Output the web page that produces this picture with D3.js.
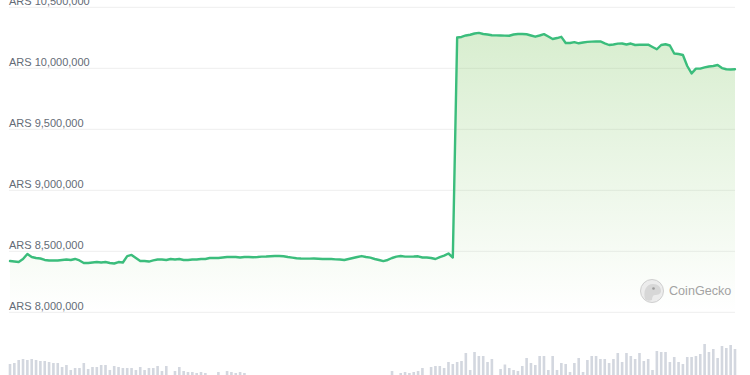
<!DOCTYPE html>
<html>
<head>
<meta charset="utf-8">
<script src="https://cdn.jsdelivr.net/npm/d3@7"></script>
<style>
  html, body { margin: 0; padding: 0; background: #ffffff; }
  #chart { width: 750px; height: 375px; overflow: hidden; }
</style>
</head>
<body>
<div id="chart"></div>
<script>
// hourly prices over 7 days, in thousand ARS
const prices = [
  8420, 8416, 8412, 8437, 8478, 8453, 8445, 8441, 8429, 8425,
  8425, 8425, 8429, 8433, 8429, 8437, 8425, 8404, 8404, 8408,
  8412, 8408, 8412, 8404, 8400, 8412, 8408, 8461, 8470, 8445,
  8420, 8420, 8416, 8425, 8433, 8433, 8429, 8437, 8433, 8437,
  8429, 8429, 8433, 8433, 8437, 8437, 8445, 8445, 8445, 8449,
  8453, 8453, 8453, 8449, 8453, 8453, 8451, 8453, 8456, 8457,
  8459, 8461, 8461, 8459, 8453, 8448, 8443, 8441, 8440, 8440,
  8441, 8439, 8437, 8437, 8437, 8434, 8433, 8429, 8437, 8445,
  8453, 8461, 8453, 8448, 8437, 8429, 8420, 8429, 8445, 8456,
  8461, 8456, 8456, 8457, 8459, 8449, 8449, 8445, 8437, 8453,
  8465, 8482, 8449, 10252, 10257, 10269, 10275, 10285, 10290, 10281,
  10277, 10271, 10270, 10269, 10268, 10267, 10277, 10281, 10281, 10279,
  10269, 10259, 10269, 10280, 10261, 10240, 10248, 10258, 10207, 10207,
  10214, 10205, 10211, 10217, 10219, 10220, 10220, 10205, 10191, 10195,
  10202, 10203, 10195, 10203, 10191, 10193, 10193, 10194, 10175, 10156,
  10191, 10197, 10187, 10121, 10117, 10109, 10019, 9958, 9997, 9997,
  10007, 10015, 10019, 10027, 10002, 9992, 9990, 9992
];

// hourly volume, relative units (0-100)
const volumes = [
  56, 58, 64, 66, 64, 66, 64, 62, 62, 60,
  58, 58, 50, 54, 44, 48, 48, 58, 46, 50,
  50, 54, 54, 44, 52, 50, 48, 48, 48, 44,
  50, 44, 48, 48, 52, 42, 52, 28, 42, 50,
  42, 40, 40, 38, 40, 38, 28, 26, 40, 28,
  42, 40, 38, 40, 38, 30, 26, 22, 28, 18,
  20, 24, 16, 22, 26, 20, 18, 24, 28, 22,
  20, 16, 24, 26, 22, 18, 20, 24, 28, 22,
  26, 30, 24, 20, 26, 28, 30, 32, 42, 28,
  38, 40, 38, 40, 42, 48, 32, 50, 52, 52,
  48, 60, 56, 60, 62, 78, 44, 80, 72, 72,
  60, 66, 32, 46, 55, 48, 44, 42, 52, 68,
  58, 54, 72, 72, 44, 72, 44, 58, 56, 40,
  58, 68, 40, 64, 72, 72, 66, 66, 58, 66,
  78, 60, 78, 72, 66, 78, 62, 66, 44, 82,
  80, 80, 60, 70, 60, 56, 70, 70, 72, 76,
  96, 80, 86, 68, 92, 88, 94, 86
];

const yTicks = [8000000, 8500000, 9000000, 9500000, 10000000, 10500000];
const currency = "ARS";
const watermark = "CoinGecko";

function standardParameters() {
  return {
    divId: "chart",
    width: 750,
    height: 375,
    plotLeft: 10,
    plotRight: 735,
    gridLeft: 9,
    priceTop: 7.3,
    priceBottom: 312.3,
    volumeBase: 392,
    volumeTop: 342,
    lineColor: "#3bbd7c",
    lineWidth: 2.4,
    areaColor: "rgb(120,195,90)",
    gridColor: "#eeeeee",
    labelColor: "#646b76",
    barColor: "#d3d7df",
    barWidth: 2.6,
    fontFamily: "'Liberation Sans', Arial, sans-serif"
  };
}

function createSvg(pars) {
  return d3.select("#" + pars.divId).append("svg")
    .attr("width", pars.width)
    .attr("height", pars.height)
    .style("display", "block");
}

function createScales(pars) {
  const x = d3.scaleLinear().domain([0, prices.length - 1]).range([pars.plotLeft, pars.plotRight]);
  const y = d3.scaleLinear().domain([yTicks[0], yTicks[yTicks.length - 1]]).range([pars.priceBottom, pars.priceTop]);
  const v = d3.scaleLinear().domain([0, 100]).range([pars.volumeBase, pars.volumeTop]);
  return {x, y, v};
}

function drawGrid(svg, pars, y) {
  const fmt = d3.format(",");
  const grid = svg.append("g").attr("class", "grid");
  grid.selectAll("line")
    .data(yTicks)
    .enter().append("line")
    .attr("x1", pars.gridLeft)
    .attr("x2", pars.plotRight)
    .attr("y1", d => y(d))
    .attr("y2", d => y(d))
    .attr("stroke", pars.gridColor)
    .attr("stroke-width", 1);

  grid.selectAll("text")
    .data(yTicks)
    .enter().append("text")
    .attr("x", pars.gridLeft)
    .attr("y", d => y(d) - 2)
    .text(d => currency + " " + fmt(d))
    .style("fill", pars.labelColor)
    .style("font-size", "11px")
    .style("font-family", pars.fontFamily);
}

function drawVolume(svg, pars, x, v) {
  svg.append("g")
    .selectAll("rect")
    .data(volumes)
    .enter().append("rect")
    .attr("x", (d, i) => x(i) - pars.barWidth / 2)
    .attr("y", d => v(d))
    .attr("width", pars.barWidth)
    .attr("height", d => pars.volumeBase - v(d))
    .attr("fill", pars.barColor);
}

function drawPrice(svg, pars, x, y) {
  const values = prices.map(p => p * 1000);
  const top = y(d3.max(values));

  const grad = svg.append("defs").append("linearGradient")
    .attr("id", "area-fill")
    .attr("gradientUnits", "userSpaceOnUse")
    .attr("x1", 0).attr("x2", 0)
    .attr("y1", top).attr("y2", pars.priceBottom);
  grad.append("stop").attr("offset", 0).attr("stop-color", pars.areaColor).attr("stop-opacity", 0.29);
  grad.append("stop").attr("offset", 1).attr("stop-color", pars.areaColor).attr("stop-opacity", 0);

  const area = d3.area()
    .x((d, i) => x(i))
    .y0(pars.priceBottom)
    .y1(d => y(d));
  svg.append("path")
    .datum(values)
    .attr("d", area)
    .attr("fill", "url(#area-fill)");

  const line = d3.line()
    .x((d, i) => x(i))
    .y(d => y(d));
  svg.append("path")
    .datum(values)
    .attr("d", line)
    .attr("fill", "none")
    .attr("stroke", pars.lineColor)
    .attr("stroke-width", pars.lineWidth)
    .attr("stroke-linejoin", "round")
    .attr("stroke-linecap", "round");
}

function drawWatermark(svg, pars) {
  const g = svg.append("g").attr("transform", "translate(652,291)");
  g.append("circle")
    .attr("r", 11.5)
    .attr("fill", "#ececec")
    .attr("stroke", "#cfcfcf")
    .attr("stroke-width", 1);
  // gecko head
  g.append("path")
    .attr("d", "M-7,8 C-9,0 -6,-7 1,-7 C6,-7 9,-4 9,0 C9,3 6,4 3,4 C1,4 0,6 0,9 C-3,10 -5,10 -7,8 Z")
    .attr("fill", "#d7d7d7");
  g.append("circle")
    .attr("cx", 1.5)
    .attr("cy", -2.5)
    .attr("r", 1.3)
    .attr("fill", "#9a9a9a");
  svg.append("text")
    .attr("x", 669)
    .attr("y", 295)
    .text(watermark)
    .style("fill", "#a3a3a3")
    .style("font-size", "12.6px")
    .style("font-family", pars.fontFamily);
}

const pars = standardParameters();
const svg = createSvg(pars);
const {x, y, v} = createScales(pars);
drawGrid(svg, pars, y);
drawVolume(svg, pars, x, v);
drawPrice(svg, pars, x, y);
drawWatermark(svg, pars);
</script>
</body>
</html>
